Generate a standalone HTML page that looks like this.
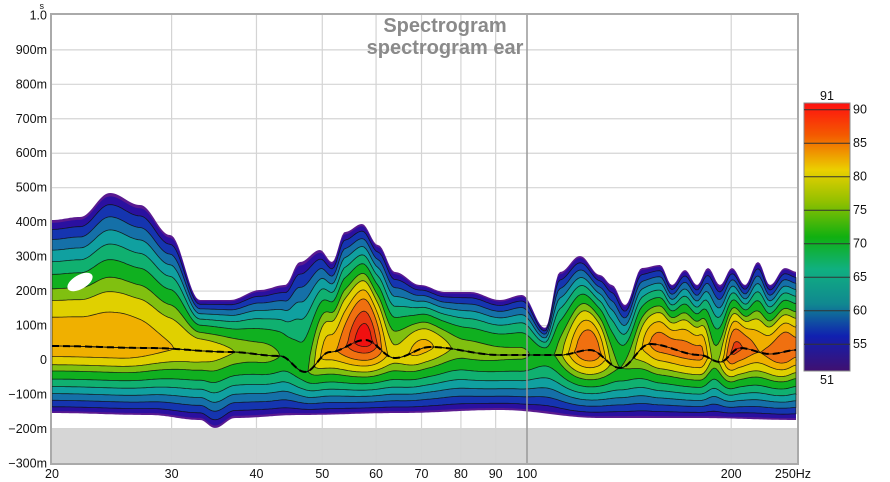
<!DOCTYPE html>
<html><head><meta charset="utf-8"><style>
html,body{margin:0;padding:0;background:#fff;width:890px;height:482px;overflow:hidden}
svg{display:block;font-family:"Liberation Sans",sans-serif}
</style></head><body>
<svg id="s" width="890" height="482" viewBox="0 0 890 482">
<rect x="0" y="0" width="890" height="482" fill="#fff"/>
<rect x="52" y="428" width="745" height="35" fill="#d6d6d6"/>
<g id="grid" stroke="#d4d4d4" stroke-width="1.2"></g>
<g id="spec"></g>
<line x1="527" y1="15" x2="527" y2="463" stroke="#999" stroke-width="1.5"/>
<rect x="51" y="14" width="747" height="450" fill="none" stroke="#aaa" stroke-width="2"/>
<text x="445" y="32" text-anchor="middle" font-size="20" font-weight="bold" fill="#8a8a8a">Spectrogram</text>
<text x="445" y="54" text-anchor="middle" font-size="20" font-weight="bold" fill="#8a8a8a">spectrogram ear</text>
<g id="lab" font-size="12.5" fill="#111"></g>
<defs><linearGradient id="cb" x1="0" y1="0" x2="0" y2="1">
<stop offset="0" stop-color="#ff1010"/><stop offset="0.12" stop-color="#f45a00"/>
<stop offset="0.25" stop-color="#ebd000"/><stop offset="0.37" stop-color="#90c000"/>
<stop offset="0.5" stop-color="#10b010"/><stop offset="0.62" stop-color="#10b080"/>
<stop offset="0.75" stop-color="#108890"/><stop offset="0.87" stop-color="#1020b0"/>
<stop offset="1" stop-color="#401070"/></linearGradient></defs>
<rect x="804" y="103" width="46" height="268" fill="url(#cb)" stroke="#888"/>
<g id="cbl" font-size="12.5" fill="#111"></g>
</svg>
<script>
var NS="http://www.w3.org/2000/svg";
function el(p,t,a,txt){var e=document.createElementNS(NS,t);for(var k in a)e.setAttribute(k,a[k]);if(txt!=null)e.textContent=txt;p.appendChild(e);return e;}
var g=document.getElementById('grid'),lab=document.getElementById('lab'),spec=document.getElementById('spec'),cbl=document.getElementById('cbl');
function fx(f){return 52+679.2*Math.log10(f/20);}
function fy(s){return 360-344.6*s;}
[30,40,50,60,70,80,90,200].forEach(function(f){el(g,'line',{x1:fx(f),y1:15,x2:fx(f),y2:463});});
for(var i=-2;i<=9;i++){el(g,'line',{x1:52,y1:fy(i/10),x2:797,y2:fy(i/10)});}
var yl=[["1.0",1],["900m",.9],["800m",.8],["700m",.7],["600m",.6],["500m",.5],["400m",.4],["300m",.3],["200m",.2],["100m",.1],["0",0],["\u2212100m",-.1],["\u2212200m",-.2],["\u2212300m",-.3]];
yl.forEach(function(a){el(lab,'text',{x:47,y:fy(a[1])+4,'text-anchor':'end'},a[0]);});
el(lab,'text',{x:44,y:9,'font-size':9,'text-anchor':'end'},"s");
[[20,"20"],[30,"30"],[40,"40"],[50,"50"],[60,"60"],[70,"70"],[80,"80"],[90,"90"],[100,"100"],[200,"200"]].forEach(function(a){el(lab,'text',{x:fx(a[0]),y:478,'text-anchor':'middle'},a[1]);});
el(lab,'text',{x:793,y:478,'text-anchor':'middle'},"250Hz");
[90,85,80,75,70,65,60,55].forEach(function(v){var y=371-(v-51)/40*268;el(cbl,'line',{x1:804,x2:850,y1:y,y2:y,stroke:'#333','stroke-width':1});el(cbl,'text',{x:853,y:y+4},String(v));});
el(cbl,'text',{x:827,y:100,'text-anchor':'middle'},"91");el(cbl,'text',{x:827,y:384,'text-anchor':'middle'},"51");
function interp(pts,x){if(x<=pts[0][0])return pts[0][1];for(var i=1;i<pts.length;i++){if(x<=pts[i][0]){var a=pts[i-1],b=pts[i];var t=(x-a[0])/(b[0]-a[0]);t=(1-Math.cos(Math.PI*t))/2;return a[1]+(b[1]-a[1])*t;}}return pts[pts.length-1][1];}
var TOP=[[52,220],[80,217],[110,193],[140,205],[170,235],[200,300],[230,300],[260,290],[285,285],[300,262],[320,250],[332,262],[345,232],[362,224],[378,245],[395,272],[420,285],[445,292],[470,292],[500,300],[522,295],[545,328],[560,272],[580,256],[600,275],[612,285],[625,305],[642,268],[660,265],[672,285],[685,270],[697,285],[708,268],[720,285],[732,268],[745,285],[758,262],[770,285],[785,268],[797,272]];
var BOT=[[52,413],[150,415],[200,420],[215,428],[235,418],[300,415],[400,413],[500,410],[600,418],[700,418],[797,420]];
var CEN=[[52,346],[150,348],[230,352],[280,356],[305,372],[330,352],[365,340],[395,358],[430,347],[500,355],[560,355],[590,350],[620,368],[650,344],[700,355],[720,362],[740,348],[770,354],[797,350]];
var AMP=[[52,.82],[120,.82],[190,.74],[260,.64],[300,.56],[330,.8],[365,1],[395,.7],[420,.78],[465,.64],[520,.62],[545,.56],[590,.9],[620,.6],[660,.86],[700,.85],[715,.64],[735,.92],[760,.82],[785,.9],[797,.86]];
var lv=[[0,"#5a1a90"],[0.03,"#2a10a0"],[0.1,"#1535b0"],[0.2,"#1570a8"],[0.3,"#10a0a0"],[0.4,"#10b070"],[0.5,"#10b020"],[0.6,"#80c010"],[0.67,"#e0d000"],[0.75,"#f0b000"],[0.82,"#f07010"],[0.9,"#e83a10"],[0.96,"#f01010"]];
var xs=[];for(var x=52;x<=797;x+=2)xs.push(x);
lv.forEach(function(L,k){
 var up=[],dn=[];
 xs.forEach(function(x){
  var c=interp(CEN,x),t=interp(TOP,x),b=interp(BOT,x),a=interp(AMP,x);
  var r=L[0]/a;var f=r>=1?0:Math.pow(1-r,0.6);
  up.push(x+","+(c-(c-t)*f).toFixed(1));dn.push(x+","+(c+(b-c)*Math.pow(f,1.25)).toFixed(1));
 });
 var d="M"+up.join(" L")+" L"+dn.reverse().join(" L")+"Z";
 el(spec,'path',{d:d,fill:L[1],stroke:k<2?'none':'#111','stroke-width':k<2?0:0.8,'stroke-opacity':0.85});
});
var cp=[];xs.forEach(function(x){cp.push(x+","+interp(CEN,x).toFixed(1));});
el(spec,'path',{d:"M"+cp.join(" L"),fill:'none',stroke:'#000','stroke-width':2,'stroke-dasharray':'7,4'});
el(spec,'ellipse',{cx:80,cy:282,rx:14,ry:7,fill:'#fff',transform:'rotate(-30 80 282)'});
</script>
</body></html>
